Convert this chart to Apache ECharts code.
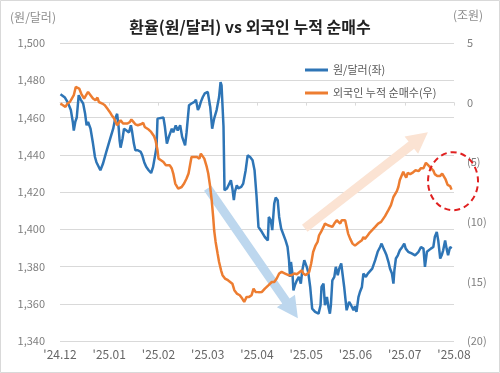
<!DOCTYPE html>
<html><head><meta charset="utf-8">
<script src="https://cdn.jsdelivr.net/npm/echarts@6.0.0/dist/echarts.min.js"></script>
<style>html,body{margin:0;padding:0;background:#fff}#c{width:500px;height:373px}</style>
</head><body><div id="c"></div>
<script>
const monthLabels = ["'24.12","'25.01","'25.02","'25.03","'25.04","'25.05","'25.06","'25.07","'25.08"];
const leftTicks = [1340,1360,1380,1400,1420,1440,1460,1480,1500];
const rightTicks = [-20,-15,-10,-5,0,5];
// time in months since '24.12
const fxT = [0.01,0.10,0.16,0.22,0.26,0.28,0.31,0.34,0.38,0.42,0.47,0.51,0.54,0.57,0.60,0.62,0.67,0.71,0.74,0.77,0.82,0.87,0.94,1.01,1.08,1.12,1.16,1.19,1.21,1.23,1.27,1.30,1.35,1.40,1.44,1.46,1.50,1.53,1.58,1.64,1.67,1.71,1.75,1.80,1.85,1.89,1.92,1.96,1.98,2.02,2.10,2.13,2.17,2.21,2.27,2.30,2.35,2.39,2.44,2.48,2.54,2.57,2.62,2.67,2.73,2.76,2.80,2.83,2.86,2.90,2.94,3.00,3.05,3.09,3.13,3.18,3.23,3.26,3.28,3.32,3.34,3.39,3.43,3.47,3.50,3.53,3.55,3.59,3.62,3.68,3.72,3.77,3.81,3.86,3.91,3.95,3.99,4.03,4.10,4.16,4.22,4.24,4.28,4.31,4.35,4.38,4.42,4.45,4.49,4.53,4.58,4.62,4.65,4.67,4.69,4.72,4.74,4.77,4.81,4.85,4.89,4.92,4.96,5.01,5.04,5.08,5.12,5.18,5.25,5.29,5.31,5.35,5.38,5.42,5.45,5.48,5.50,5.53,5.57,5.60,5.64,5.67,5.71,5.75,5.77,5.82,5.87,5.91,5.96,5.99,6.02,6.06,6.09,6.13,6.16,6.19,6.21,6.25,6.29,6.34,6.40,6.45,6.50,6.53,6.57,6.60,6.63,6.67,6.70,6.74,6.77,6.79,6.82,6.86,6.90,6.95,6.99,7.02,7.07,7.14,7.21,7.28,7.33,7.38,7.41,7.45,7.49,7.53,7.58,7.61,7.65,7.68,7.72,7.75,7.78,7.82,7.85,7.88,7.92,7.95];
const fxV = [1472.5,1470.7,1468,1464,1457.6,1453,1457.6,1460,1472,1469.6,1467.5,1462,1455.8,1457.6,1458.5,1454,1446,1438.8,1436,1435,1431.7,1435,1441.5,1447.8,1454,1459.4,1462,1455,1447.8,1443.8,1448.7,1454,1453,1452,1455.8,1453,1446,1442.4,1442.4,1441.5,1439.7,1436,1433.5,1431.7,1430.2,1433.5,1434.4,1444,1459.4,1460,1460,1455,1446,1449.6,1454,1452,1455.8,1453,1455.8,1449.6,1445,1452,1466.6,1467.5,1468.4,1469.6,1464,1465.7,1468.4,1471,1472.9,1473.7,1465.7,1454,1459.4,1464,1471,1479,1477.3,1455,1421,1421.9,1422.7,1426.3,1421.9,1415.6,1420,1423.6,1421.9,1422.7,1424.5,1431.7,1439.7,1438.8,1437,1431.7,1418,1401.2,1398.5,1395.8,1394,1406.6,1404.8,1399.5,1413.8,1417,1415.6,1406.6,1400.4,1399.5,1394,1390.5,1383.4,1374.4,1382.4,1376.2,1367.2,1370,1372.6,1374.4,1370.8,1378,1383.4,1379.8,1377,1369,1357.4,1355.6,1354.7,1359.2,1369,1370.8,1359.2,1363.6,1358.3,1354.7,1359.2,1372.6,1374.4,1379.8,1375.3,1378.9,1381.6,1382.4,1369,1356.5,1361,1359.2,1356.5,1358.7,1355.6,1363.6,1366.3,1369,1376.2,1377,1374.4,1376.2,1375.3,1378.9,1383.4,1387.9,1390.5,1392.3,1389.6,1387.9,1386,1382.4,1378.9,1376.2,1370.8,1378,1384.3,1386,1388.7,1390.5,1392.3,1389.6,1387.9,1387,1386,1387.9,1390.5,1389.6,1379.8,1387.9,1388.7,1389.6,1390.5,1395.8,1398.5,1394,1384.3,1386,1388.7,1394,1389.6,1386,1390.5,1389.6];
const flowT = [0.01,0.06,0.11,0.15,0.20,0.24,0.28,0.32,0.35,0.39,0.43,0.49,0.53,0.57,0.62,0.67,0.72,0.76,0.79,0.83,0.86,0.91,0.96,1.01,1.05,1.10,1.13,1.16,1.19,1.23,1.28,1.31,1.37,1.42,1.45,1.49,1.53,1.58,1.64,1.69,1.72,1.75,1.80,1.85,1.91,1.94,1.98,2.00,2.05,2.10,2.15,2.19,2.23,2.27,2.30,2.34,2.37,2.40,2.44,2.47,2.52,2.57,2.61,2.64,2.67,2.73,2.78,2.81,2.83,2.86,2.89,2.93,2.98,3.01,3.05,3.08,3.11,3.13,3.16,3.20,3.23,3.27,3.30,3.35,3.41,3.45,3.50,3.54,3.59,3.65,3.70,3.74,3.79,3.84,3.89,3.93,3.97,4.03,4.10,4.16,4.23,4.30,4.35,4.40,4.45,4.50,4.57,4.64,4.70,4.76,4.81,4.85,4.91,4.94,4.99,5.03,5.06,5.10,5.14,5.19,5.23,5.26,5.30,5.35,5.38,5.44,5.48,5.53,5.57,5.62,5.65,5.69,5.72,5.75,5.79,5.82,5.85,5.89,5.94,5.99,6.06,6.13,6.16,6.19,6.25,6.29,6.33,6.40,6.46,6.52,6.60,6.67,6.72,6.77,6.84,6.87,6.90,6.94,6.97,6.99,7.03,7.06,7.11,7.17,7.22,7.28,7.33,7.38,7.43,7.47,7.49,7.53,7.58,7.61,7.66,7.72,7.76,7.80,7.83,7.87,7.92,7.95];
const flowV = [-0.08,-0.22,-0.36,-0.08,0.05,0.34,0.62,1.31,1.46,1.18,0.76,0.34,0.62,0.9,0.62,0.34,0.2,0.42,0.05,0.14,-0.08,-0.22,-0.5,-0.78,-1.06,-1.34,-1.62,-1.9,-1.76,-1.48,-1.76,-1.9,-1.76,-1.62,-1.42,-1.62,-1.82,-1.9,-1.82,-1.7,-2.04,-2.18,-2.26,-2.46,-2.82,-3.16,-4.0,-4.7,-4.84,-4.98,-5.26,-5.12,-5.26,-5.53,-5.95,-6.79,-6.93,-7.21,-7.35,-7.08,-6.79,-6.37,-5.95,-5.26,-4.56,-4.56,-4.56,-4.42,-4.7,-4.28,-4.14,-4.7,-5.4,-5.95,-7.08,-8.19,-9.59,-10.71,-11.69,-12.66,-13.37,-14.07,-14.48,-14.76,-14.9,-15.05,-15.19,-15.74,-16.02,-16.16,-16.44,-16.72,-16.3,-16.3,-16.16,-15.6,-15.88,-15.9,-15.88,-15.6,-15.33,-15.05,-15.05,-14.76,-14.34,-14.2,-14.34,-14.48,-14.48,-14.34,-14.4,-14.29,-14.07,-14.34,-14.48,-14.34,-14.2,-13.5,-12.53,-11.97,-11.69,-11.13,-10.85,-10.43,-10.15,-10.29,-10.43,-10.43,-10.15,-9.87,-10.01,-10.15,-9.87,-9.73,-9.87,-9.87,-10.99,-11.41,-11.83,-12.0,-11.76,-11.55,-11.27,-11.45,-11.13,-10.9,-10.85,-10.43,-10.15,-10.01,-9.52,-9.0,-8.6,-7.92,-7.43,-7.08,-6.5,-6.1,-5.8,-6.0,-6.3,-5.9,-6.0,-5.85,-5.68,-5.75,-5.5,-5.5,-5.05,-5.1,-5.3,-5.35,-5.7,-6.0,-6.15,-6.15,-5.95,-6.05,-6.45,-6.9,-7.0,-7.3];
// annotation anchors in data space (months, left-axis value)
const downArrow = [[3.0,1422],[4.83,1352.2]];
const upArrow = [[4.97,1400.5],[7.47,1452.1]];
const circleCenter = [7.98,1425.8];

const FONT = "'Noto Sans CJK KR', sans-serif";
const chart = echarts.init(document.getElementById('c'));
const zip = (a,b)=>a.map((t,i)=>[t,b[i]]);
chart.setOption({
  animation:false,
  backgroundColor:'#fff',
  textStyle:{fontFamily:FONT},
  title:{text:'환율(원/달러) vs 외국인 누적 순매수',left:'center',top:14,
    textStyle:{fontFamily:FONT,fontSize:16,fontWeight:'bold',color:'#222'}},
  legend:{orient:'vertical',left:300,top:59,itemWidth:23,itemHeight:3,itemGap:11,icon:'rect',
    textStyle:{fontFamily:FONT,fontSize:11,color:'#595959',lineHeight:12},
    data:['원/달러(좌)','외국인 누적 순매수(우)']},
  grid:{left:60,right:46,top:43,bottom:32,containLabel:false},
  xAxis:{type:'value',min:0,max:monthLabels.length-1,interval:1,
    axisLine:{show:true,lineStyle:{color:'#d9d9d9'}},
    axisTick:{show:true,length:3,lineStyle:{color:'#d9d9d9'}},
    splitLine:{show:false},
    axisLabel:{margin:7,fontSize:12,color:'#666',fontFamily:FONT,formatter:v=>monthLabels[v]}},
  yAxis:[
    {type:'value',min:leftTicks[0],max:leftTicks[leftTicks.length-1],interval:20,
      axisLine:{show:false},axisTick:{show:false},
      splitLine:{lineStyle:{color:'#d9d9d9'}},
      axisLabel:{margin:15,fontSize:11,color:'#7f7f7f',fontFamily:FONT,
        formatter:v=>String(v).replace(/\B(?=(\d{3})+(?!\d))/g,',')}},
    {type:'value',min:rightTicks[0],max:rightTicks[rightTicks.length-1],interval:5,
      axisLine:{show:false},axisTick:{show:false},splitLine:{show:false},
      axisLabel:{margin:13,fontSize:11,color:'#7f7f7f',fontFamily:FONT,
        formatter:v=>v<0?'('+(-v)+')':String(v)}}
  ],
  series:[
    {name:'원/달러(좌)',type:'line',yAxisIndex:0,data:zip(fxT,fxV),showSymbol:false,
      lineStyle:{color:'#2e75b6',width:2.5},itemStyle:{color:'#2e75b6'},z:3},
    {name:'외국인 누적 순매수(우)',type:'line',yAxisIndex:1,data:zip(flowT,flowV),showSymbol:false,
      lineStyle:{color:'#ed7d31',width:2.5},itemStyle:{color:'#ed7d31'},z:4}
  ]
});
const px = d => chart.convertToPixel({xAxisIndex:0,yAxisIndex:0}, d);
function arrowPoly(a,b){
  const dx=b[0]-a[0], dy=b[1]-a[1], L=Math.hypot(dx,dy), ux=dx/L, uy=dy/L;
  const nx=-uy, ny=ux, hl=21, hw=11, sw=4.5;
  const bx=b[0]-ux*hl, by=b[1]-uy*hl;
  return [[a[0]+nx*sw,a[1]+ny*sw],[bx+nx*sw,by+ny*sw],[bx+nx*hw,by+ny*hw],[b[0],b[1]],
          [bx-nx*hw,by-ny*hw],[bx-nx*sw,by-ny*sw],[a[0]-nx*sw,a[1]-ny*sw]];
}
const cc = px(circleCenter);
chart.setOption({graphic:[
  {type:'rect',shape:{x:0.5,y:0.5,width:499,height:372},style:{fill:'none',stroke:'#d9d9d9',lineWidth:1},z:0},
  {type:'text',x:33,y:17,style:{text:'(원/달러)',fontFamily:FONT,fontSize:12,fill:'#8c8c8c',align:'center',verticalAlign:'middle'}},
  {type:'text',x:468,y:15,style:{text:'(조원)',fontFamily:FONT,fontSize:12,fill:'#8c8c8c',align:'center',verticalAlign:'middle'}},
  {type:'polygon',shape:{points:arrowPoly(px(downArrow[0]),px(downArrow[1]))},style:{fill:'#bdd7ee'},z:1},
  {type:'polygon',shape:{points:arrowPoly(px(upArrow[0]),px(upArrow[1]))},style:{fill:'#fbe3d3'},z:1},
  {type:'ellipse',shape:{cx:cc[0],cy:cc[1],rx:25,ry:29},style:{fill:'none',stroke:'#e02020',lineWidth:2,lineDash:[6,4]},z:10}
]});
</script></body></html>
